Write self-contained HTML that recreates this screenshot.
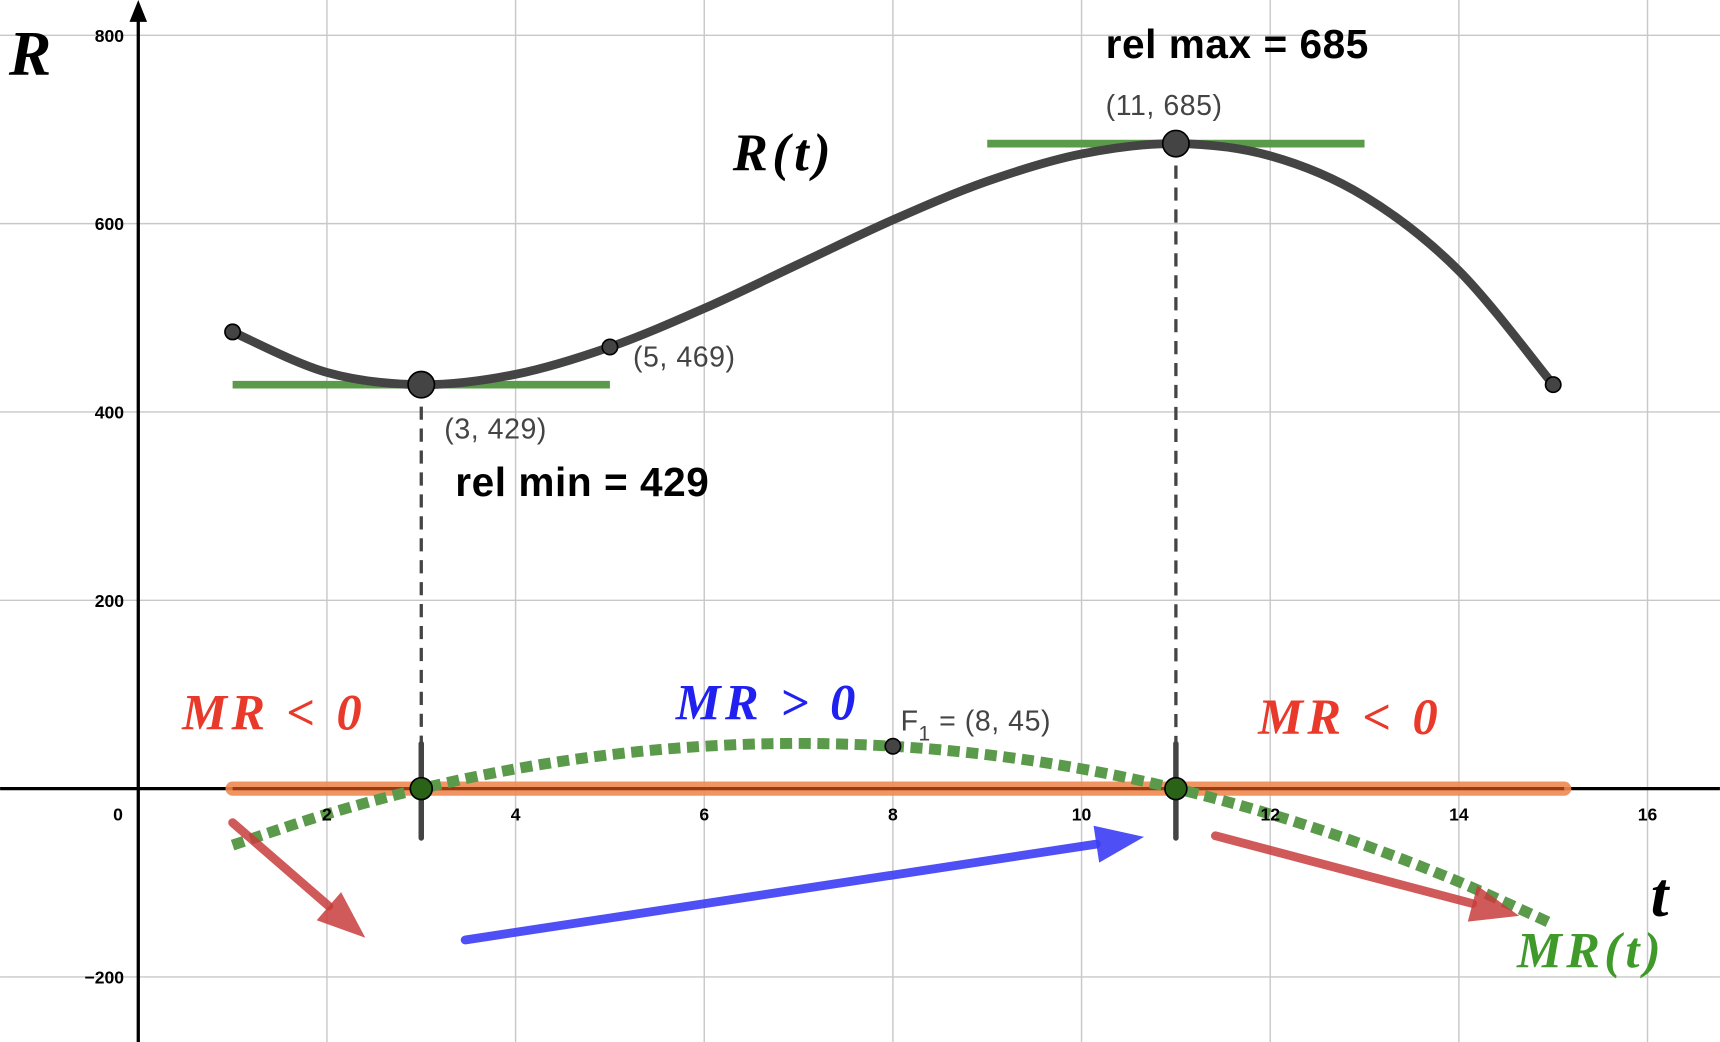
<!DOCTYPE html>
<html><head><meta charset="utf-8"><style>
html,body{margin:0;padding:0;background:#fff;}
svg{display:block;}
.tick{font-family:"Liberation Sans",sans-serif;font-weight:bold;font-size:16px;fill:#000;}
.math{font-family:"Liberation Serif",serif;font-style:italic;font-weight:bold;letter-spacing:4px;}
.lbl{font-family:"Liberation Sans",sans-serif;font-size:26px;fill:#444;letter-spacing:0.5px;}
.big{font-family:"Liberation Sans",sans-serif;font-weight:bold;font-size:37px;fill:#000;letter-spacing:0.5px;}
</style></head><body>
<svg id="chart" width="1720" height="1042" viewBox="0 0 1568 950" xmlns="http://www.w3.org/2000/svg">
<g id="grid"></g>
<g id="marks"></g>
<g id="ticks"></g>
<g id="labels"></g>
</svg>
<script>
const tVals = [1,2,3,4,5,6,7,8,9,10,11,12,13,14,15];
const rVals = [485,442,429,440,469,510,557,604,645,674,685,672,629,550,429];
const mrVals = [-60,-27,0,21,36,45,48,45,36,21,0,-27,-60,-99,-144];
const xTicks = [2,4,6,8,10,12,14,16];
const yTicks = [-200,200,400,600,800];
const relMin = [3,429];
const relMax = [11,685];
const pointF = [8,45];
const pointA = [5,469];

const X = t => 126 + t*86;
const Y = v => 719 - v*0.8585;
const NS = "http://www.w3.org/2000/svg";
function mk(parent, tag, attrs, text){
  const e = document.createElementNS(NS, tag);
  for (const k in attrs) e.setAttribute(k, attrs[k]);
  if (text !== undefined) e.textContent = text;
  parent.appendChild(e); return e;
}
const grid = document.getElementById('grid'), ticks = document.getElementById('ticks'), marks = document.getElementById('marks'), labels = document.getElementById('labels');

for (const t of xTicks){
  const l = mk(grid,'line',{x1:X(t),x2:X(t),y1:0,y2:950,stroke:'#c8c8c8','stroke-width':1.3});
  
  
  const tx = mk(ticks,'text',{x:X(t),y:748,'text-anchor':'middle',class:'tick'},String(t));
  
  
}
for (const v of yTicks){
  const l = mk(grid,'line',{x1:0,x2:1568,y1:Y(v),y2:Y(v),stroke:'#c8c8c8','stroke-width':1.3});
  
  
  const tx = mk(ticks,'text',{x:113,y:Y(v)+6,'text-anchor':'end',class:'tick'},v<0?'\u2212'+(-v):String(v));
  
  
}
const z = mk(ticks,'text',{x:112,y:748,'text-anchor':'end',class:'tick'},'0');



let a = mk(grid,'line',{x1:0,x2:1568,y1:719,y2:719,stroke:'#000','stroke-width':3});
 
a = mk(grid,'line',{x1:126,x2:126,y1:10,y2:950,stroke:'#000','stroke-width':3});
 
a = mk(grid,'polygon',{points:'126,0 118,20 134,20',fill:'#000'});
 

function smooth(ts, vs){
  const p = ts.map((t,i)=>[X(t),Y(vs[i])]);
  let d = `M${p[0][0]},${p[0][1]}`;
  for (let i=0;i<p.length-1;i++){
    const p0=p[Math.max(0,i-1)],p1=p[i],p2=p[i+1],p3=p[Math.min(p.length-1,i+2)];
    d += ` C${p1[0]+(p2[0]-p0[0])/6},${p1[1]+(p2[1]-p0[1])/6} ${p2[0]-(p3[0]-p1[0])/6},${p2[1]-(p3[1]-p1[1])/6} ${p2[0]},${p2[1]}`;
  }
  return d;
}

let e = mk(marks,'line',{x1:X(tVals[0]),x2:X(tVals[tVals.length-1])+10,y1:719,y2:719,stroke:'#ee8a50','stroke-width':13,'stroke-linecap':'round','stroke-opacity':0.9});
 
e = mk(marks,'line',{x1:X(tVals[0]),x2:X(tVals[tVals.length-1])+10,y1:719,y2:719,stroke:'#9a3a10','stroke-width':3});
 

e = mk(marks,'line',{x1:X(relMin[0]-2),x2:X(relMin[0]+2),y1:Y(relMin[1]),y2:Y(relMin[1]),stroke:'#5a9a4a','stroke-width':7});
 
e = mk(marks,'line',{x1:X(relMax[0]-2),x2:X(relMax[0]+2),y1:Y(relMax[1]),y2:Y(relMax[1]),stroke:'#5a9a4a','stroke-width':7});
 

for (const p of [relMin, relMax]){
  e = mk(marks,'line',{x1:X(p[0]),x2:X(p[0]),y1:Y(p[1]),y2:719,stroke:'#444','stroke-width':3,'stroke-dasharray':'12,8'});
   
  e = mk(marks,'line',{x1:X(p[0]),x2:X(p[0]),y1:678,y2:764,stroke:'#444','stroke-width':5,'stroke-linecap':'round'});
   
}

e = mk(marks,'path',{d:smooth(tVals,rVals),fill:'none',stroke:'#444','stroke-width':8,'stroke-linecap':'round'});
 
e = mk(marks,'path',{d:smooth(tVals,mrVals),fill:'none',stroke:'#5a9a4a','stroke-width':10,'stroke-dasharray':'11,6'});
 

function arrow(x1,y1,x2,y2,col,name){
  const g = mk(marks,'g',{});
  
  
  const ang = Math.atan2(y2-y1,x2-x1), L=44, W=17;
  const bx = x2-L*Math.cos(ang), by = y2-L*Math.sin(ang);
  mk(g,'line',{x1,y1,x2:bx,y2:by,stroke:col,'stroke-width':8,'stroke-linecap':'round'});
  const px=-Math.sin(ang)*W, py=Math.cos(ang)*W;
  mk(g,'polygon',{points:`${x2},${y2} ${bx+px},${by+py} ${bx-px},${by-py}`,fill:col});
}
arrow(212,750,333,855,'rgba(200,60,60,0.85)','arrow-decreasing-left');
arrow(424,857,1043,763,'rgba(60,60,245,0.9)','arrow-increasing');
arrow(1108,762,1385,835,'rgba(200,60,60,0.85)','arrow-decreasing-right');

function pt(t,v,r,fill,name){
  const c = mk(marks,'circle',{cx:X(t),cy:Y(v),r,fill,stroke:'#000','stroke-width':1.5});
  
  
}
pt(tVals[0],rVals[0],7,'#444','start-point');
pt(tVals[14],rVals[14],7,'#444','end-point');
pt(pointA[0],pointA[1],7,'#444','point-5-469');
pt(relMin[0],relMin[1],12,'#444','rel-min-point');
pt(relMax[0],relMax[1],12,'#444','rel-max-point');
pt(pointF[0],pointF[1],7,'#444','point-f1');
pt(relMin[0],0,10,'#2a6318','mr-root-3');
pt(relMax[0],0,10,'#2a6318','mr-root-11');

function txt(x,y,s,attrs,name){
  const t = mk(labels,'text',Object.assign({x,y},attrs),s);
  
  
  return t;
}
txt(8,68,'R',{class:'math','font-size':58,fill:'#000'},'y-axis-title');
txt(1505,835,'t',{class:'math','font-size':58,fill:'#000'},'x-axis-title');
txt(668,155,'R(t)',{class:'math','font-size':48,fill:'#000'},'r-curve-label');
txt(1383,882,'MR(t)',{class:'math','font-size':46,fill:'#3f9a2a'},'mr-curve-label');
txt(166,665,'MR < 0',{class:'math','font-size':46,fill:'#e8392a','letter-spacing':6},'mr-negative-left');
txt(1147,669,'MR < 0',{class:'math','font-size':46,fill:'#e8392a','letter-spacing':6},'mr-negative-right');
txt(616,656,'MR > 0',{class:'math','font-size':46,fill:'#2020f0','letter-spacing':6},'mr-positive');
txt(405,400,'(3, 429)',{class:'lbl'},'min-coord-label');
txt(577,334,'(5, 469)',{class:'lbl'},'point-5-label');
txt(1008,105,'(11, 685)',{class:'lbl'},'max-coord-label');
const f = txt(821,666,'F',{class:'lbl'},'f1-label');
mk(f,'tspan',{dy:9,'font-size':19},'1');
mk(f,'tspan',{dy:-9},' = (8, 45)');
txt(415,452,'rel min = 429',{class:'big'},'rel-min-label');
txt(1008,53,'rel max = 685',{class:'big'},'rel-max-label');
</script>
</body></html>
